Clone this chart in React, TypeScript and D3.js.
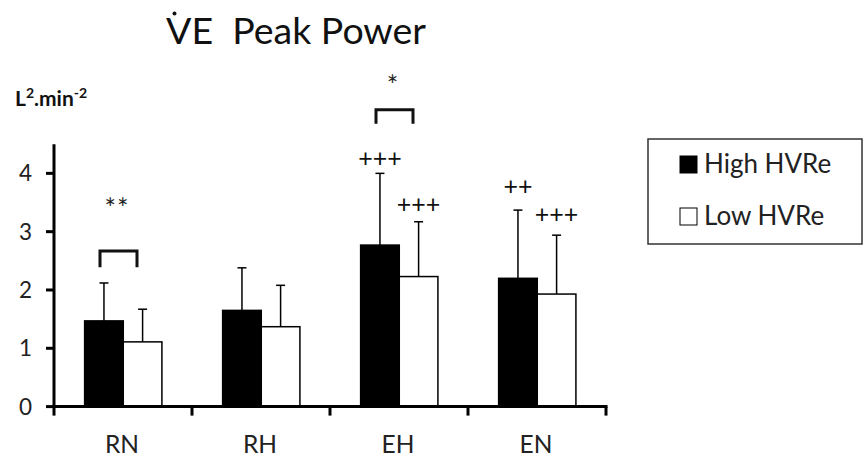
import React from "react";
import * as d3 from "d3";

const categories = ["RN", "RH", "EH", "EN"];
const seriesNames = ["High HVRe", "Low HVRe"];
const highMeans = [1.47, 1.65, 2.77, 2.2];
const highErrTop = [2.12, 2.38, 4.0, 3.37];
const lowMeans = [1.11, 1.37, 2.23, 1.93];
const lowErrTop = [1.67, 2.08, 3.17, 2.94];
const highMarks = ["", "", "+++", "++"];
const lowMarks = ["", "", "+++", "+++"];
const yTicks = [0, 1, 2, 3, 4];
// significance brackets between groups: category, bracket top value, leg bottom value, label
const sigCategories = ["RN", "EH"];
const sigTop = [2.67, 5.09];
const sigLegs = [2.39, 4.85];
const sigLabels = ["**", "*"];
const sigLabelValue = [3.234, 5.344];

const W = 864;
const H = 457;
const FONT = "Lato, 'Open Sans', sans-serif";

export default function App() {
  const x = d3.scaleBand<string>().domain(categories).range([54, 606]).padding(0);
  const bw = x.bandwidth();
  const x1 = d3.scaleBand<string>().domain(seriesNames).range([bw * 0.222, bw * 0.782]).padding(0);
  const y = d3.scaleLinear().domain([0, 4.5]).range([406.6, 144.2]);

  const series = [
    { name: seriesNames[0], means: highMeans, err: highErrTop, marks: highMarks, fill: "#000", dy: [0, 0, -6, -15] },
    { name: seriesNames[1], means: lowMeans, err: lowErrTop, marks: lowMarks, fill: "#fff", dy: [0, 0, -9, -12] },
  ];

  const axisX0 = x.range()[0];
  const axisX1 = x.range()[1];
  const y0 = y(0);

  return (
    <svg width={W} height={H} style={{ position: "absolute", left: 0, top: 0, display: "block", background: "#fff" }}>
      {/* title */}
      <text x={166} y={44} fontFamily={FONT} fontSize={37.5} fill="#111" xmlSpace="preserve" style={{ whiteSpace: "pre" }}>
        {"VE  Peak Power"}
      </text>
      <circle cx={174.5} cy={13.5} r={2} fill="#111" />

      {/* unit label */}
      <text x={15} y={106} fontFamily={FONT} fontSize={21} fontWeight="bold" fill="#111">
        L<tspan fontSize={14} dy={-8}>2</tspan>
        <tspan dy={8}>.min</tspan>
        <tspan fontSize={14} dy={-8}>-2</tspan>
      </text>

      {/* bars */}
      {series.map((s) =>
        categories.map((c, i) => {
          const bx = (x(c) as number) + (x1(s.name) as number);
          const w = x1.bandwidth();
          const top = y(s.means[i]);
          const cx = bx + w / 2;
          const et = y(s.err[i]);
          return (
            <g key={s.name + c}>
              <rect
                x={bx}
                y={top}
                width={w}
                height={y0 - top}
                fill={s.fill}
                stroke="#000"
                strokeWidth={1.5}
              />
              <line x1={cx} x2={cx} y1={top} y2={et} stroke="#000" strokeWidth={1.5} />
              <line x1={cx - 4.5} x2={cx + 4.5} y1={et} y2={et} stroke="#000" strokeWidth={1.5} />
              {s.marks[i] ? (
                <text
                  x={cx}
                  y={et + s.dy[i]}
                  textAnchor="middle"
                  fontFamily={FONT}
                  fontSize={25}
                  fill="#111"
                >
                  {s.marks[i]}
                </text>
              ) : null}
            </g>
          );
        })
      )}

      {/* significance brackets */}
      {sigCategories.map((c, i) => {
        const bx0 = (x(c) as number) + 46;
        const bx1 = (x(c) as number) + 83;
        const t = y(sigTop[i]);
        const b = y(sigLegs[i]);
        return (
          <g key={"sig" + c}>
            <path d={`M${bx0},${b} L${bx0},${t} L${bx1},${t} L${bx1},${b}`} fill="none" stroke="#111" strokeWidth={3} />
            <text
              x={(x(c) as number) + 63}
              y={y(sigLabelValue[i])}
              textAnchor="middle"
              fontFamily={FONT}
              fontSize={27}
              fill="#222"
              letterSpacing={1}
            >
              {sigLabels[i]}
            </text>
          </g>
        );
      })}

      {/* axes */}
      <line x1={axisX0} x2={axisX0} y1={y(4.5)} y2={y0 + 1.5} stroke="#000" strokeWidth={3} />
      <line x1={axisX0 - 1.5} x2={axisX1 + 1.5} y1={y0} y2={y0} stroke="#000" strokeWidth={3} />
      {yTicks.map((t) => (
        <g key={"yt" + t}>
          <line x1={axisX0 - 8} x2={axisX0} y1={y(t)} y2={y(t)} stroke="#000" strokeWidth={3} />
          <text
            x={32}
            y={y(t)}
            dy="0.36em"
            textAnchor="end"
            fontFamily={FONT}
            fontSize={22.5}
            fill="#222"
          >
            {t}
          </text>
        </g>
      ))}
      {[...categories.map((c) => x(c) as number), axisX1].map((px, i) => (
        <line key={"xt" + i} x1={px} x2={px} y1={y0} y2={y0 + 9} stroke="#000" strokeWidth={3} />
      ))}
      {categories.map((c) => (
        <text
          key={"xl" + c}
          x={(x(c) as number) + bw / 2 - 1}
          y={453}
          textAnchor="middle"
          fontFamily={FONT}
          fontSize={24.5}
          fill="#222"
        >
          {c}
        </text>
      ))}

      {/* legend */}
      <rect x={648} y={139} width={214} height={105} fill="#fff" stroke="#333" strokeWidth={1.5} />
      {series.map((s, i) => {
        const base = i === 0 ? 173 : 225;
        return (
          <g key={"lg" + s.name}>
            <rect x={680} y={base - 17} width={17} height={17} fill={s.fill} stroke="#000" strokeWidth={1} />
            <text x={704} y={base} fontFamily={FONT} fontSize={26} fill="#222">
              {s.name}
            </text>
          </g>
        );
      })}
    </svg>
  );
}
